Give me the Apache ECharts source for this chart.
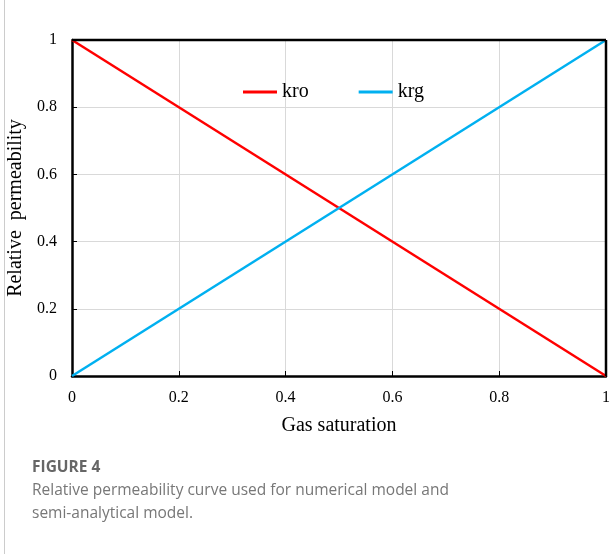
<!DOCTYPE html>
<html>
<head>
    <meta charset="utf-8">
    <script type="text/javascript" src="https://cdn.jsdelivr.net/npm/echarts@6/dist/echarts.min.js"></script>
</head>
<body style="margin:0;">
<div id="chartmain" style="width:612px; height:554px;"></div>
<script type="text/javascript">
// gas saturation and relative permeability end points
var gasSat = [0, 1];
var kro = [1, 0];
var krg = [0, 1];
var ticks = [0, 0.2, 0.4, 0.6, 0.8, 1];

var serif = '"Liberation Serif", "Times New Roman", serif';
var capFont = '"Open Sans", "Noto Sans", sans-serif';

var option = {
    backgroundColor: '#fff',
    animation: false,
    grid: { left: 72, top: 40, right: 6, bottom: 178, outerBoundsMode: 'none', containLabel: false },
    legend: {
        top: 77,
        left: 238,
        itemGap: 50,
        itemWidth: 34,
        itemHeight: 3,
        icon: 'rect',
        textStyle: { fontFamily: serif, fontSize: 20, color: '#000' },
        data: ['kro', 'krg']
    },
    xAxis: {
        type: 'value',
        min: 0, max: 1, interval: 0.2,
        name: 'Gas saturation',
        nameLocation: 'middle',
        nameGap: 40,
        nameTextStyle: { fontFamily: serif, fontSize: 20, color: '#000' },
        axisLine: { lineStyle: { color: '#000', width: 2.5 } },
        axisTick: { inside: true, length: 5, lineStyle: { color: '#000', width: 1 } },
        axisLabel: {
            margin: 14, fontFamily: serif, fontSize: 16, color: '#000',
            formatter: function (v) { return String(+v.toFixed(1)); }
        },
        splitLine: { lineStyle: { color: '#d9d9d9', width: 1 } }
    },
    yAxis: {
        type: 'value',
        min: 0, max: 1, interval: 0.2,
        name: 'Relative  permeability',
        nameLocation: 'middle',
        nameGap: 43,
        nameTextStyle: { fontFamily: serif, fontSize: 20, color: '#000' },
        axisLine: { show: true, lineStyle: { color: '#000', width: 2.5 } },
        axisTick: { show: true, inside: true, length: 5, lineStyle: { color: '#000', width: 1 } },
        axisLabel: {
            margin: 15, fontFamily: serif, fontSize: 16, color: '#000',
            formatter: function (v) { return String(+v.toFixed(1)); }
        },
        splitLine: { lineStyle: { color: '#d9d9d9', width: 1 } }
    },
    series: [
        {
            name: 'kro', type: 'line', symbol: 'none',
            lineStyle: { color: '#ff0000', width: 2.5 }, itemStyle: { color: '#ff0000' },
            data: gasSat.map(function (s, i) { return [s, kro[i]]; })
        },
        {
            name: 'krg', type: 'line', symbol: 'none',
            lineStyle: { color: '#00b0f0', width: 2.5 }, itemStyle: { color: '#00b0f0' },
            data: gasSat.map(function (s, i) { return [s, krg[i]]; })
        }
    ],
    graphic: [
        // frame: top and right border of the plot box
        { type: 'line', shape: { x1: 72, y1: 40, x2: 606, y2: 40 }, style: { stroke: '#000', lineWidth: 2.5 }, z: 10 },
        { type: 'line', shape: { x1: 606, y1: 40, x2: 606, y2: 376 }, style: { stroke: '#000', lineWidth: 2.5 }, z: 10 },
        // page edge on the left
        { type: 'line', shape: { x1: 4.5, y1: 0, x2: 4.5, y2: 554 }, style: { stroke: '#cccccc', lineWidth: 1 } },
        { type: 'text', left: 32, top: 460, style: { text: 'FIGURE 4', font: 'bold 15.5px ' + capFont, fill: '#666' } },
        { type: 'text', left: 32, top: 483, style: { text: 'Relative permeability curve used for numerical model and', font: '15.5px ' + capFont, fill: '#777' } },
        { type: 'text', left: 32, top: 506, style: { text: 'semi-analytical model.', font: '15.5px ' + capFont, fill: '#777' } }
    ]
};
var myChart = echarts.init(document.getElementById('chartmain'));
myChart.setOption(option);
</script>
</body>
</html>
